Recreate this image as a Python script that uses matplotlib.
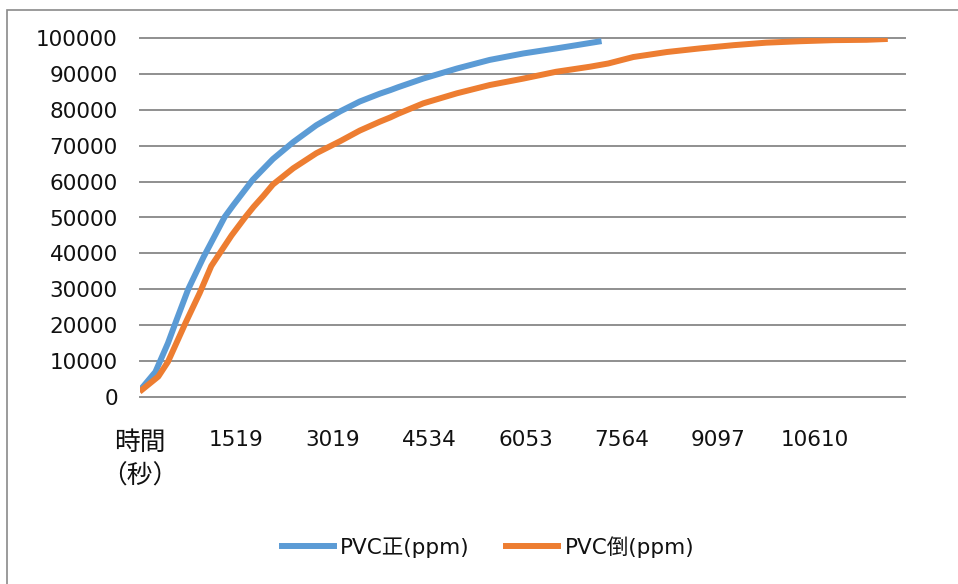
import matplotlib
matplotlib.use("Agg")
import matplotlib.pyplot as plt
from matplotlib.patches import Rectangle

# ---- data (category index along the time axis, ppm values) ----
n_categories = 795
tick_step = 100
tick_labels = ["時間\n（秒）", "1519", "3019", "4534", "6053", "7564", "9097", "10610"]

pvc_up_idx = [2, 16, 29, 38, 50, 66, 88, 97, 117, 138, 159, 183, 208, 228, 249, 260, 268,
              294, 329, 363, 398, 432, 453, 476]
pvc_up_ppm = [2500, 7000, 15000, 21500, 30000, 39000, 50200, 53500, 60500, 66300, 71000,
              75700, 79600, 82300, 84500, 85500, 86300, 88700, 91500, 93900, 95700, 97100,
              98000, 99000]

pvc_down_idx = [2, 19, 29, 47, 62, 74, 95, 109, 118, 128, 138, 159, 183, 208, 228, 249, 260,
                268, 294, 329, 363, 398, 432, 467, 486, 512, 547, 581, 616, 650, 685, 720,
                754, 773]
pvc_down_ppm = [2000, 5700, 9800, 20500, 29000, 36500, 45000, 50000, 53000, 56000, 59200,
                63700, 67900, 71300, 74200, 76700, 77900, 78900, 81800, 84600, 86900, 88700,
                90600, 92000, 92900, 94700, 96100, 97100, 98000, 98700, 99100, 99400, 99500,
                99700]

series_names = ["PVC正(ppm)", "PVC倒(ppm)"]
colors = ["#5B9BD5", "#ED7D31"]

plt.rcParams['font.family'] = ['DejaVu Sans', 'Noto Sans CJK JP']

fig = plt.figure(figsize=(9.58, 5.84), dpi=100)
W, H = 958, 584

# outer chart border
fig.patches.append(Rectangle((7 / W, -0.1), 1.2, 1 - 10 / H + 0.1, transform=fig.transFigure,
                             fill=False, edgecolor="#8a8a8a", linewidth=1.2))

ax = fig.add_axes([140 / W, 1 - 397 / H, (905 - 140) / W, (397 - 38) / H])

ax.plot(pvc_up_idx, pvc_up_ppm, color=colors[0], lw=4.3, label=series_names[0],
        solid_joinstyle="round", zorder=3)
ax.plot(pvc_down_idx, pvc_down_ppm, color=colors[1], lw=4.3, label=series_names[1],
        solid_joinstyle="round", zorder=3)

ax.set_xlim(0, n_categories - 1)
ax.set_ylim(0, 100000)
ax.set_yticks(range(0, 100001, 10000))
ax.set_yticklabels([str(v) for v in range(0, 100001, 10000)])
ax.set_xticks([i * tick_step for i in range(len(tick_labels))])
ax.set_xticklabels(tick_labels, ha="center", multialignment="center")

ax.tick_params(axis="y", length=0, pad=16, labelsize=15.5, labelcolor="#111111")
ax.tick_params(axis="x", length=0, pad=24, labelsize=15.5, labelcolor="#111111")

first = ax.get_xticklabels()[0]
first.set_fontsize(18.5)
first.set_linespacing(1.35)

ax.yaxis.grid(True, color="#8f8f8f", linewidth=1.4)
ax.xaxis.grid(False)
for gl in ax.yaxis.get_gridlines():
    gl.set_clip_on(False)
for s in ax.spines.values():
    s.set_visible(False)
ax.set_axisbelow(True)

fig.legend(loc="center", bbox_to_anchor=(488 / W, 1 - 547 / H), ncol=2, frameon=False,
           fontsize=15.5, handlelength=2.4, handletextpad=0.3, columnspacing=1.7,
           labelcolor="#111111")

fig.savefig("out.png", dpi=100)
